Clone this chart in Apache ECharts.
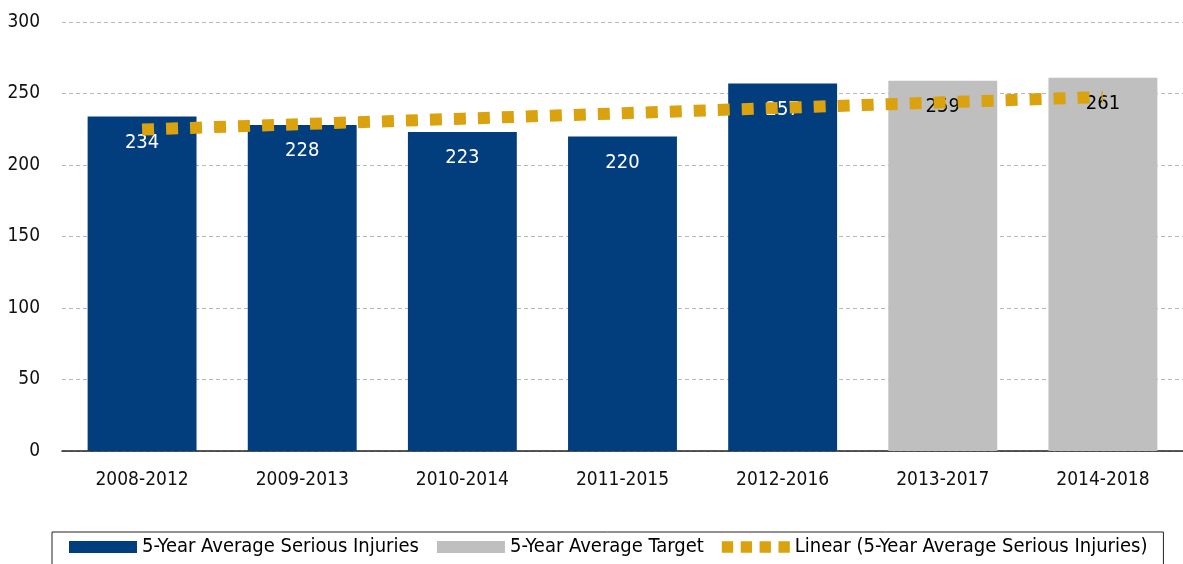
<!DOCTYPE html>
<html><head><meta charset="utf-8">
<script src="https://cdn.jsdelivr.net/npm/echarts@6/dist/echarts.min.js"></script>
<style>html,body{margin:0;padding:0;background:#fff}#c{width:1183px;height:564px}</style>
</head><body><div id="c"></div>
<script>
const categories = ['2008-2012','2009-2013','2010-2014','2011-2015','2012-2016','2013-2017','2014-2018'];
const injuries = [234, 228, 223, 220, 257, '-', '-'];
const target = ['-', '-', '-', '-', '-', 259, 261];
const trend = [224.8, 228.6, 232.4, 236.2, 240.0, 243.8, 247.6];
const yTicks = [0, 50, 100, 150, 200, 250, 300];
const names = ['5-Year Average Serious Injuries', '5-Year Average Target', 'Linear (5-Year Average Serious Injuries)'];

const FONT = '"Liberation Sans Narrow", "Arial Narrow", "DejaVu Sans Condensed", sans-serif';
const chart = echarts.init(document.getElementById('c'));
chart.setOption({
  animation: false,
  textStyle: { fontFamily: FONT },
  grid: { left: 62, right: 0, top: 22, bottom: 113, containLabel: false },
  legend: {
    data: [
      { name: names[0], icon: 'rect' },
      { name: names[1], icon: 'rect' },
      { name: names[2], icon: 'path://M0,0h12v12h-12zM20,0h12v12h-12zM40,0h12v12h-12zM60,0h12v12h-12z' }
    ],
    left: 52, top: 532,
    itemWidth: 68, itemHeight: 12, itemGap: 18,
    padding: [5, 16, 20, 17],
    borderColor: '#222', borderWidth: 1,
    textStyle: { fontFamily: FONT, fontSize: 20, color: '#000' }
  },
  xAxis: {
    type: 'category', data: categories,
    axisLine: { lineStyle: { color: '#222', width: 1.5 } },
    axisTick: { show: false },
    axisLabel: { fontFamily: FONT, fontSize: 19, color: '#111', margin: 20 }
  },
  yAxis: {
    type: 'value', min: 0, max: 300, interval: 50,
    axisLine: { show: false }, axisTick: { show: false },
    axisLabel: { fontFamily: FONT, fontSize: 19, color: '#111', margin: 22,
      formatter: v => yTicks.includes(v) ? String(v) : '' },
    splitLine: { lineStyle: { color: '#b8b8b8', type: [4, 3], width: 1 } }
  },
  series: [
    {
      name: names[0], type: 'bar', stack: 'a', data: injuries, barWidth: '68%',
      itemStyle: { color: '#023E7D' },
      label: { show: true, position: 'insideTop', distance: 16, color: '#fff', fontFamily: FONT, fontSize: 20 },
      z: 2
    },
    {
      name: names[1], type: 'bar', stack: 'a', data: target, barWidth: '68%',
      itemStyle: { color: '#BFBFBF' },
      label: { show: true, position: 'insideTop', distance: 16, color: '#000', fontFamily: FONT, fontSize: 20 },
      z: 2
    },
    {
      name: names[2], type: 'line', data: trend, symbol: 'none', z: 3,
      color: '#D9A20E',
      lineStyle: { color: '#D9A20E', width: 12, type: [12, 12], cap: 'butt' }
    }
  ]
});
</script></body></html>
